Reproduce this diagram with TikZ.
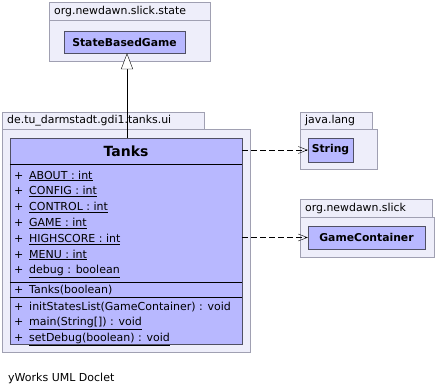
\documentclass[tikz,border=0pt]{standalone}
\usepackage{fontspec}
\setmainfont{DejaVu Sans}
\usetikzlibrary{arrows.meta}
\definecolor{packageFill}{RGB}{238,238,250}
\definecolor{packageLine}{RGB}{160,160,178}
\definecolor{classFill}{RGB}{184,184,255}
\definecolor{classLine}{RGB}{80,80,100}
\tikzstyle{diagram} = [x = 1pt, y = -1pt]
\tikzstyle{packageStyle} = [draw=packageLine, fill=packageFill]
\tikzstyle{packageText} = [anchor=west, inner sep=0, font=\fontsize{10.9}{13}\selectfont]
\tikzstyle{classStyle} = [draw=classLine, fill=classFill, inner sep=0, font=\bfseries\fontsize{10.8}{13}\selectfont]
\tikzstyle{titleText} = [inner sep=0, font=\bfseries\fontsize{14}{17}\selectfont]
\tikzstyle{memberText} = [anchor=base west, inner sep=0, font=\fontsize{11}{13}\selectfont]
\tikzstyle{dividerLine} = [color=black, semithick]
\tikzstyle{dependency} = [dash pattern=on 6pt off 3pt, -{Straight Barb[length=9pt, width=7pt]}]
\tikzstyle{generalization} = [-{Triangle[fill=white, length=16pt, width=12pt]}]
% tab and body of a package: name, left, tab top, tab right, body top, right, bottom, label
\newcommand{\packageBox}[8]{
  \filldraw [packageStyle] (#2, #3) rectangle (#4, #5);
  \filldraw [packageStyle] (#2, #5) rectangle (#6, #7);
  \node [packageText] (#1) at (#2 + 5, #3 / 2 + #5 / 2) {#8};
}
% one member line of the Tanks class: name, baseline, text
\newcommand{\memberRow}[3]{
  \node [memberText] (#1Plus) at (14, #2) {+};
  \node [memberText] (#1) at (29, #2) {#3};
}

\begin{document}
\begin{tikzpicture}[diagram]
  \useasboundingbox (0, 0) rectangle (436, 391);

  \packageBox{statePkg}{49}{2}{210}{20}{210}{61}{org.newdawn.slick.state}
  \packageBox{uiPkg}{2}{112}{204}{129}{250}{352}{de.tu\_darmstadt.gdi1.tanks.ui}
  \packageBox{langPkg}{300}{112}{372}{129}{377}{169}{java.lang}
  \packageBox{slickPkg}{300}{199}{432}{217}{434}{257}{org.newdawn.slick}

  \node [classStyle, minimum width=121pt, minimum height=22pt] (stateBasedGame) at (124.5, 42) {StateBasedGame};
  \node [classStyle, minimum width=45pt, minimum height=24pt] (string) at (330.5, 150) {String};
  \node [classStyle, minimum width=117pt, minimum height=23pt] (gameContainer) at (366.5, 237.5) {GameContainer};

  \node [classStyle, minimum width=232pt, minimum height=206pt] (tanks) at (126, 241) {};
  \node [titleText] (tanksTitle) at (126, 151) {Tanks};
  \draw [dividerLine] (tanks.west |- 0, 164) -- (tanks.east |- 0, 164);
  \draw [dividerLine] (tanks.west |- 0, 282) -- (tanks.east |- 0, 282);
  \draw [dividerLine] (tanks.west |- 0, 297) -- (tanks.east |- 0, 297);

  \foreach \label [count=\i from 0] in {ABOUT : int, CONFIG : int, CONTROL : int, GAME : int, HIGHSCORE : int, MENU : int, debug : boolean} {
    \pgfmathsetmacro{\var}{179 + 15.8 * \i}
    \memberRow{attr\i}{\var}{\underline{\label}}
  }
  \memberRow{constructor}{293}{Tanks(boolean)}
  \memberRow{initStates}{310}{initStatesList(GameContainer) : void}
  \memberRow{mainMethod}{325.8}{\underline{main(String[]) : void}}
  \memberRow{setDebug}{341.4}{\underline{setDebug(boolean) : void}}

  \draw [generalization] (tanks.north -| 127, 0) -- (stateBasedGame.south -| 127, 0);
  \draw [dependency] (tanks.east |- string) -- (string.west);
  \draw [dependency] (tanks.east |- gameContainer) -- (gameContainer.west);

  \node [memberText] (footer) at (8, 381) {yWorks UML Doclet};
\end{tikzpicture}
\end{document}
